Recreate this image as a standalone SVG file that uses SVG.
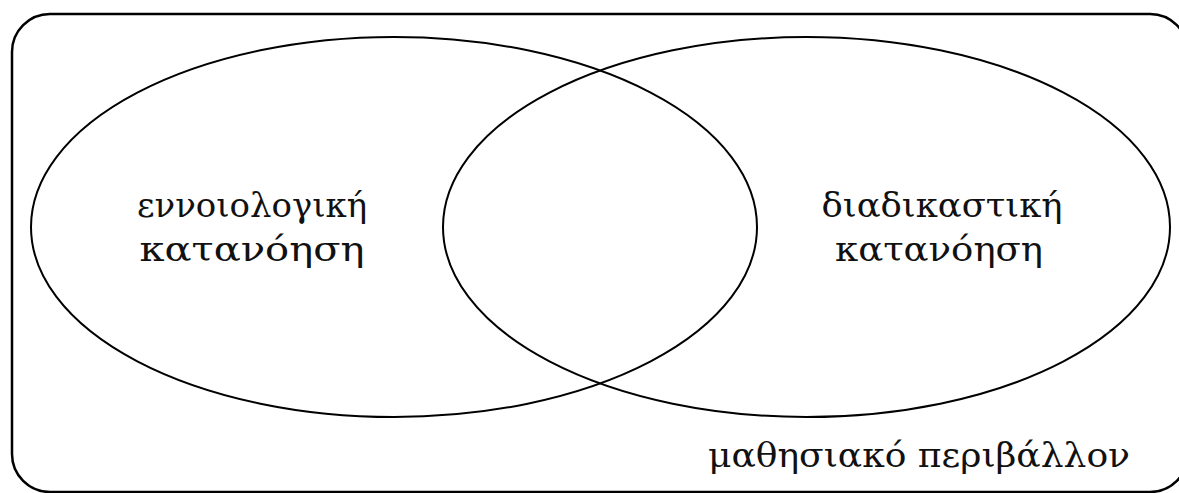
<svg xmlns="http://www.w3.org/2000/svg" width="1179" height="493" viewBox="0 0 1179 493">
<style>
.shape{fill:none;stroke:#000;stroke-width:2}
.frame{fill:none;stroke:#000;stroke-width:2.5}
.lbl{font-family:'DejaVu Serif',serif;font-size:34px;fill:#111;text-anchor:middle}
</style>
<rect width="1179" height="493" fill="#fff"/>
<g id="environment">
<rect class="frame" x="12" y="14" width="1176" height="478" rx="38" ry="38"/>
<text class="lbl" x="919" y="467" textLength="422" lengthAdjust="spacingAndGlyphs">μαθησιακό περιβάλλον</text>
</g>
<g id="conceptual">
<ellipse class="shape" cx="394" cy="227" rx="363" ry="190"/>
<text class="lbl" x="252" y="217" textLength="230" lengthAdjust="spacingAndGlyphs">εννοιολογική</text>
<text class="lbl" x="252" y="261" textLength="225" lengthAdjust="spacingAndGlyphs">κατανόηση</text>
</g>
<g id="procedural">
<ellipse class="shape" cx="806.5" cy="227" rx="363.5" ry="190"/>
<text class="lbl" x="942" y="217" textLength="241" lengthAdjust="spacingAndGlyphs">διαδικαστική</text>
<text class="lbl" x="939" y="261" textLength="208" lengthAdjust="spacingAndGlyphs">κατανόηση</text>
</g>
<g id="connectors"></g>
</svg>
